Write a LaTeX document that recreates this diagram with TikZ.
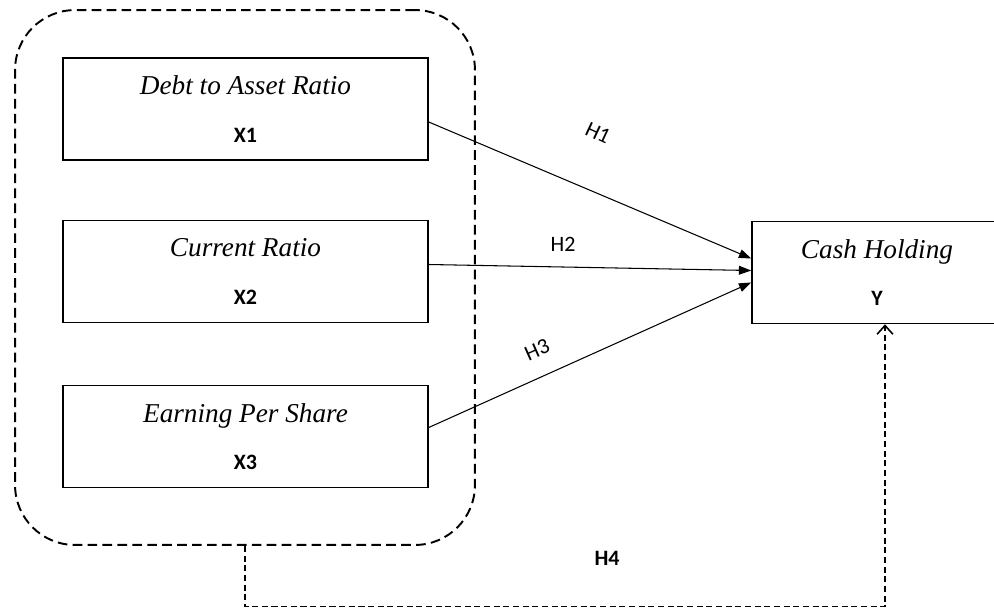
\documentclass[tikz,border=0pt]{standalone}
\usepackage{fontspec}
\setmainfont{Liberation Serif}
\newfontfamily\calibri{Carlito}
\usetikzlibrary{arrows.meta,positioning,calc}

\begin{document}
\begin{tikzpicture}[
  x=0.02cm, y=-0.02cm,
  varbox/.style={draw,line width=0.9pt,minimum width=7.3cm,minimum height=2.04cm,
                 align=center,inner sep=0pt,font=\fontsize{15.5}{27}\selectfont},
  hyp/.style={-{Triangle[length=7pt,width=5pt]},line width=0.6pt},
  hlabel/.style={font=\calibri\fontsize{12.5}{14}\selectfont},
]
  \useasboundingbox (0,0) rectangle (994,609);

  % Independent variables
  \node[varbox] (x1) at (245.5,109) {\textit{Debt to Asset Ratio}\\{\calibri\bfseries\fontsize{12.5}{14}\selectfont X1}};
  \node[varbox] (x2) at (245.5,271.5) {\textit{Current Ratio}\\{\calibri\bfseries\fontsize{12.5}{14}\selectfont X2}};
  \node[varbox] (x3) at (245.5,436.5) {\textit{Earning Per Share}\\{\calibri\bfseries\fontsize{12.5}{14}\selectfont X3}};

  % Group around X1--X3
  \node[draw,line width=1.1pt,dash pattern=on 5.5pt off 3pt,rounded corners=1.2cm,
        minimum width=9.2cm,minimum height=10.7cm] (grp) at (245,277.5) {};

  % Dependent variable
  \node[varbox,minimum width=5cm] (yv) at (877,272.5) {\textit{Cash Holding}\\{\calibri\bfseries\fontsize{12.5}{14}\selectfont Y}};

  % Hypotheses
  \draw[hyp] ($(x1.east)+(0,13)$) -- ($(yv.west)+(0,-14)$);
  \draw[hyp] ($(x2.east)+(0,-7)$) -- ($(yv.west)+(0,-2)$);
  \draw[hyp] ($(x3.east)+(0,-9)$) -- ($(yv.west)+(0,10)$);

  \node[hlabel,rotate=-25] (h1) at (598,133) {H1};
  \node[hlabel] (h2) at (563,244) {H2};
  \node[hlabel,rotate=24] (h3) at (537,350) {H3};
  \node[hlabel,font=\calibri\bfseries\fontsize{12.5}{14}\selectfont] (h4) at (607,558) {H4};

  % Simultaneous effect
  \draw[line width=0.9pt,dash pattern=on 3.5pt off 2pt,-{Straight Barb[length=5pt,width=9pt]}]
    (grp.south) -- (grp.south |- 0,606.5) -| ($(yv.south)+(8,0)$);
\end{tikzpicture}
\end{document}
